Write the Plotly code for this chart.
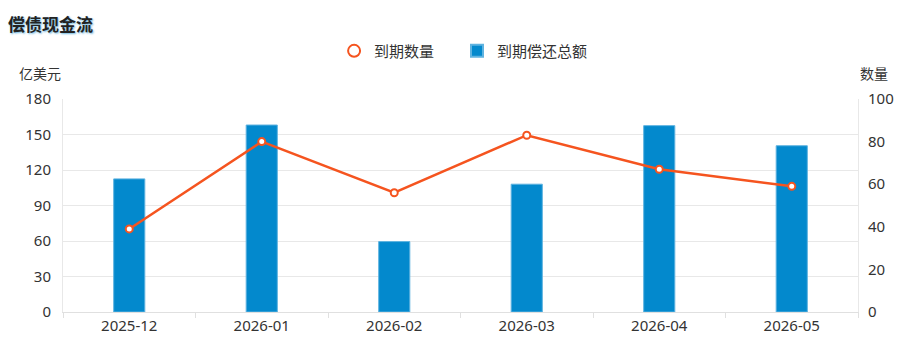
import plotly.graph_objects as go

# Monthly debt-service schedule
months = ["2025-12", "2026-01", "2026-02", "2026-03", "2026-04", "2026-05"]
total_due = [112.5, 158, 59.5, 108, 157.5, 140.5]   # 亿美元
count_due = [39, 80, 56, 83, 67, 59]                # 数量

FONT = "Noto Sans, Noto Sans CJK SC, sans-serif"
BAR_COLOR = "#0389cd"
LINE_COLOR = "#f5541f"
TEXT = "#333333"

fig = go.Figure()

# line series (legend entry drawn separately as a bare ring)
fig.add_trace(go.Scatter(
    x=months, y=count_due, name="到期数量", yaxis="y2",
    mode="lines+markers", showlegend=False, legendgroup="count",
    line=dict(color=LINE_COLOR, width=2.5),
    marker=dict(symbol="circle", size=7, color="white",
                line=dict(color=LINE_COLOR, width=2)),
))
fig.add_trace(go.Scatter(
    x=[None], y=[None], name="到期数量", yaxis="y2", legendgroup="count",
    mode="markers", legend="legend",
    marker=dict(symbol="circle", size=12, color="white",
                line=dict(color=LINE_COLOR, width=3)),
))

fig.add_trace(go.Bar(
    x=months, y=total_due, name="到期偿还总额", legend="legend2",
    marker=dict(color=BAR_COLOR, line=dict(color="#5fb3e0", width=1)),
    width=0.235,
))

legend_style = dict(
    orientation="h", xanchor="left", y=1.225, yanchor="middle",
    font=dict(size=15, color=TEXT), itemsizing="constant", itemwidth=30,
    bgcolor="rgba(0,0,0,0)",
)

fig.update_layout(
    width=901, height=345,
    margin=dict(l=63, r=43, t=99, b=33, autoexpand=False),
    paper_bgcolor="white", plot_bgcolor="white",
    font=dict(family=FONT, size=14, color=TEXT),
    title=dict(
        text="<b>偿债现金流</b>", x=0.009, xanchor="left", y=0.928, yanchor="middle",
        font=dict(size=17, color="#222222", family=FONT,
                  shadow="1px 1px 2px #6fb8e0"),
    ),
    legend=dict(x=0.341, **legend_style),
    legend2=dict(x=0.4956, **legend_style),
    xaxis=dict(
        type="category", showgrid=False, showline=True, linecolor="#e0e0e0",
        ticks="outside", tickson="boundaries", ticklen=5, tickcolor="#e0e0e0",
        tickfont=dict(size=15, color=TEXT),
        zeroline=False,
    ),
    yaxis=dict(
        range=[0, 180], tickvals=[0, 30, 60, 90, 120, 150, 180],
        showgrid=True, gridcolor="#e8e8e8", gridwidth=1,
        showline=True, linecolor="#e8e8e8", zeroline=False,
        tickfont=dict(size=15, color=TEXT), ticklabelstandoff=8,
    ),
    yaxis2=dict(
        range=[0, 100], tickvals=[0, 20, 40, 60, 80, 100],
        overlaying="y", side="right", showgrid=False,
        showline=True, linecolor="#e8e8e8", zeroline=False,
        tickfont=dict(size=15, color=TEXT), ticklabelstandoff=6,
    ),
    annotations=[
        dict(text="亿美元", xref="paper", yref="paper", x=-0.029, y=1.12,
             xanchor="center", yanchor="middle", showarrow=False,
             font=dict(size=14, color=TEXT)),
        dict(text="数量", xref="paper", yref="paper", x=1.02, y=1.12,
             xanchor="center", yanchor="middle", showarrow=False,
             font=dict(size=14, color=TEXT)),
    ],
)

fig.write_html("out.html")
